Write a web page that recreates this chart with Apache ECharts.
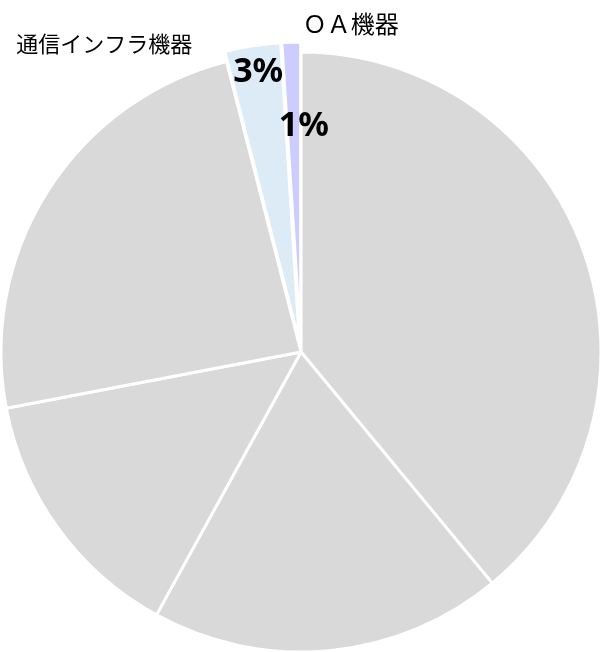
<!DOCTYPE html>
<html>
<head>
<meta charset="utf-8">
<script src="https://cdn.jsdelivr.net/npm/echarts@6/dist/echarts.min.js"></script>
<style>
    html, body {margin: 0; padding: 0; background: #fff;}
    #main {width: 600px; height: 652px;}
</style>
</head>
<body>
<div id="main"></div>
<script>
var myChart = echarts.init(document.getElementById('main'));

// slices clockwise from 12 o'clock
const names = ['区分1', '区分2', '区分3', '区分4', '通信インフラ機器', 'ＯＡ機器'];
const values = [39, 19, 14, 24, 3, 1];
const colors = ['#D9D9D9', '#D9D9D9', '#D9D9D9', '#D9D9D9', '#DDEBF7', '#CCCCFF'];
const labelled = [false, false, false, false, true, true];

const nameFont = 'Noto Sans CJK JP';

function textWidth(str, size) {
    const ctx = document.createElement('canvas').getContext('2d');
    ctx.font = size + 'px "' + nameFont + '"';
    return ctx.measureText(str).width;
}

const base = {
    type: 'pie',
    center: [301, 352],
    startAngle: 90,
    clockwise: true,
    animation: false,
    selectedMode: 'multiple',
    selectedOffset: 10,
    avoidLabelOverlap: false,
    labelLine: {show: false},
    labelLayout: {hideOverlap: false},
    emphasis: {disabled: true}
};

function sliceData(transparent) {
    return values.map(function (v, i) {
        return {
            name: names[i],
            value: v,
            selected: labelled[i],
            itemStyle: {color: transparent ? 'rgba(0,0,0,0)' : colors[i]}
        };
    });
}

// an invisible ring whose mid radius carries one slice's label
function labelRing(idx, mid, label) {
    const data = sliceData(true);
    data.forEach(function (d, i) {
        d.label = {show: i === idx};
    });
    return Object.assign({}, base, {
        radius: [mid - 10, mid + 10],
        silent: true,
        data: data,
        label: Object.assign({position: 'inside', color: '#000'}, label)
    });
}

const pctLabel = {fontFamily: 'Noto Sans', fontWeight: 'bold', fontSize: 34, formatter: '{c}%'};

let option = {
    backgroundColor: '#fff',
    series: [
        Object.assign({}, base, {
            radius: [0, 300],
            data: sliceData(false),
            itemStyle: {borderColor: '#fff', borderWidth: 3},
            label: {show: false}
        }),
        labelRing(4, 270, Object.assign({padding: [0, 0, 0, 3]}, pctLabel)),
        labelRing(5, 213, Object.assign({padding: [0, 0, 0, 20]}, pctLabel)),
        labelRing(4, 299, {
            fontFamily: nameFont, fontSize: 22, formatter: '{b}',
            padding: [0, Math.round(120 + textWidth(names[4], 22)), 0, 0]
        }),
        labelRing(5, 315, {
            fontFamily: nameFont, fontSize: 24, formatter: '{b}',
            padding: [0, 0, 0, Math.round(24 + textWidth(names[5], 24))]
        })
    ]
};

myChart.setOption(option);
</script>
</body>
</html>
